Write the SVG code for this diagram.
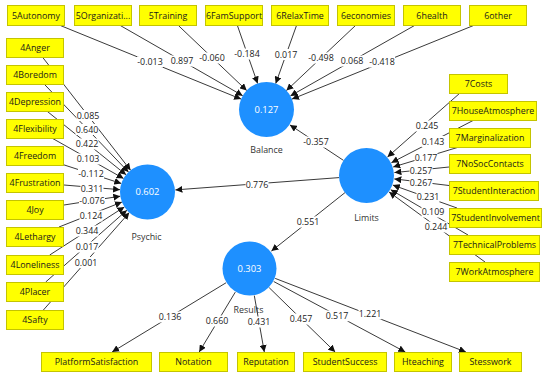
<svg xmlns="http://www.w3.org/2000/svg" width="550" height="379" viewBox="0 0 550 379">
<defs>
<marker id="ah" viewBox="0 0 10 10" refX="10" refY="5" markerWidth="7" markerHeight="7" orient="auto" markerUnits="userSpaceOnUse"><path d="M0,0 L10,5 L0,10 z" fill="#111"/></marker>
<style>
text{font-family:"Open Sans","Noto Sans","Liberation Sans",sans-serif;font-size:8.9px;text-anchor:middle}
.bx rect{fill:#ffff00;stroke:#c4c400;stroke-width:1}
.bx text{fill:#1a1a1a}
.lv circle{fill:#1e90ff}
.lv .v{fill:#ffffff;font-size:9.4px}
.lv .n{fill:#333333}
#connectors line{stroke:#3a3a3a;stroke-width:1;marker-end:url(#ah)}
#labels rect{fill:#ffffff}
#labels text{fill:#222222}
</style>
</defs>
<rect width="550" height="379" fill="#ffffff"/>
<g id="connectors">
<line x1="60.4" y1="25.5" x2="241.1" y2="99.1"/>
<line x1="120.3" y1="25.5" x2="242.7" y2="95.7"/>
<line x1="178.4" y1="25.5" x2="246.7" y2="90.5"/>
<line x1="237.4" y1="25.5" x2="257.6" y2="83.5"/>
<line x1="296.5" y1="25.5" x2="275.7" y2="83.6"/>
<line x1="355.5" y1="25.5" x2="286.4" y2="90.6"/>
<line x1="414.5" y1="25.5" x2="290.4" y2="95.9"/>
<line x1="473.5" y1="25.5" x2="292.0" y2="99.1"/>
<line x1="42.4" y1="57" x2="130.6" y2="170.3"/>
<line x1="44.1" y1="84" x2="128.5" y2="172.1"/>
<line x1="46.8" y1="111" x2="126.1" y2="174.8"/>
<line x1="51.8" y1="138" x2="123.6" y2="178.5"/>
<line x1="64" y1="164.9" x2="121.3" y2="183.5"/>
<line x1="64" y1="185" x2="120.1" y2="189.7"/>
<line x1="64" y1="205" x2="120.3" y2="196.2"/>
<line x1="59" y1="227" x2="121.9" y2="202.1"/>
<line x1="49.7" y1="255" x2="124.4" y2="206.9"/>
<line x1="45.7" y1="282" x2="126.9" y2="210.2"/>
<line x1="43.4" y1="310" x2="129.3" y2="212.6"/>
<line x1="460" y1="93" x2="387.5" y2="157.0"/>
<line x1="474" y1="120" x2="391.4" y2="162.7"/>
<line x1="459" y1="147" x2="393.2" y2="167.0"/>
<line x1="449" y1="167" x2="394.4" y2="172.6"/>
<line x1="449" y1="185.5" x2="394.3" y2="178.9"/>
<line x1="457" y1="208" x2="392.8" y2="185.1"/>
<line x1="468" y1="235" x2="390.7" y2="189.7"/>
<line x1="485" y1="262" x2="389.1" y2="192.0"/>
<line x1="343.5" y1="160.4" x2="289.9" y2="124.9"/>
<line x1="339.1" y1="177.6" x2="175.4" y2="189.9"/>
<line x1="345.0" y1="192.6" x2="271.4" y2="251.1"/>
<line x1="226.0" y1="282.8" x2="112.1" y2="352"/>
<line x1="235.3" y1="292.1" x2="199.2" y2="352"/>
<line x1="254.3" y1="295.6" x2="264.3" y2="352"/>
<line x1="269.2" y1="287.7" x2="335.2" y2="352"/>
<line x1="273.7" y1="281.5" x2="405.3" y2="352"/>
<line x1="275.2" y1="278.4" x2="465.9" y2="352"/>
</g>
<g id="labels">
<rect x="137" y="56.5" width="26" height="11"/><text x="150" y="65.2">-0.013</text>
<rect x="170.5" y="55.5" width="23" height="11"/><text x="182" y="64.2">0.897</text>
<rect x="199" y="52.5" width="26" height="11"/><text x="212" y="61.2">-0.060</text>
<rect x="234" y="48.5" width="26" height="11"/><text x="247" y="57.2">-0.184</text>
<rect x="274.5" y="49" width="23" height="11"/><text x="286" y="57.7">0.017</text>
<rect x="308" y="52.5" width="26" height="11"/><text x="321" y="61.2">-0.498</text>
<rect x="340.5" y="55.5" width="23" height="11"/><text x="352" y="64.2">0.068</text>
<rect x="369" y="56.5" width="26" height="11"/><text x="382" y="65.2">-0.418</text>
<rect x="76.5" y="110" width="23" height="11"/><text x="88" y="118.7">0.085</text>
<rect x="75.5" y="124" width="23" height="11"/><text x="87" y="132.7">0.640</text>
<rect x="75.5" y="138.5" width="23" height="11"/><text x="87" y="147.2">0.422</text>
<rect x="76.5" y="153.5" width="23" height="11"/><text x="88" y="162.2">0.103</text>
<rect x="78" y="168.5" width="26" height="11"/><text x="91" y="177.2">-0.112</text>
<rect x="80.5" y="183" width="23" height="11"/><text x="92" y="191.7">0.311</text>
<rect x="79" y="195.5" width="26" height="11"/><text x="92" y="204.2">-0.076</text>
<rect x="79.5" y="210.5" width="23" height="11"/><text x="91" y="219.2">0.124</text>
<rect x="75.5" y="225.5" width="23" height="11"/><text x="87" y="234.2">0.344</text>
<rect x="75.5" y="241.5" width="23" height="11"/><text x="87" y="250.2">0.017</text>
<rect x="74.5" y="257" width="23" height="11"/><text x="86" y="265.7">0.001</text>
<rect x="415.5" y="120.5" width="23" height="11"/><text x="427" y="129.2">0.245</text>
<rect x="421.5" y="136" width="23" height="11"/><text x="433" y="144.7">0.143</text>
<rect x="414.5" y="152" width="23" height="11"/><text x="426" y="160.7">0.177</text>
<rect x="409.5" y="165" width="23" height="11"/><text x="421" y="173.7">0.257</text>
<rect x="409.5" y="177.5" width="23" height="11"/><text x="421" y="186.2">0.267</text>
<rect x="416.5" y="191.5" width="23" height="11"/><text x="428" y="200.2">0.231</text>
<rect x="421.5" y="206.5" width="23" height="11"/><text x="433" y="215.2">0.109</text>
<rect x="424.5" y="221.5" width="23" height="11"/><text x="436" y="230.2">0.244</text>
<rect x="303" y="136.5" width="26" height="11"/><text x="316" y="145.2">-0.357</text>
<rect x="245.5" y="179.5" width="23" height="11"/><text x="257" y="188.2">0.776</text>
<rect x="296.5" y="216.5" width="23" height="11"/><text x="308" y="225.2">0.551</text>
<rect x="158.5" y="311.5" width="23" height="11"/><text x="170" y="320.2">0.136</text>
<rect x="205.5" y="315.5" width="23" height="11"/><text x="217" y="324.2">0.660</text>
<rect x="247.5" y="316.5" width="23" height="11"/><text x="259" y="325.2">0.431</text>
<rect x="289.5" y="313.5" width="23" height="11"/><text x="301" y="322.2">0.457</text>
<rect x="325.5" y="310.5" width="23" height="11"/><text x="337" y="319.2">0.517</text>
<rect x="358.5" y="308.5" width="23" height="11"/><text x="370" y="317.2">1.221</text>
</g>
<g id="n-5Autonomy" class="bx"><rect x="7.5" y="5.5" width="57" height="20"/><text x="36" y="18.8">5Autonomy</text></g>
<g id="n-5Organization" class="bx"><rect x="74.5" y="5.5" width="57" height="20"/><text x="103" y="18.8">5Organizati...</text></g>
<g id="n-5Training" class="bx"><rect x="139.5" y="5.5" width="57" height="20"/><text x="168" y="18.8">5Training</text></g>
<g id="n-6FamSupport" class="bx"><rect x="205.5" y="5.5" width="57" height="20"/><text x="234" y="18.8">6FamSupport</text></g>
<g id="n-6RelaxTime" class="bx"><rect x="271.5" y="5.5" width="57" height="20"/><text x="300" y="18.8">6RelaxTime</text></g>
<g id="n-6economies" class="bx"><rect x="337.5" y="5.5" width="57" height="20"/><text x="366" y="18.8">6economies</text></g>
<g id="n-6health" class="bx"><rect x="403.5" y="5.5" width="57" height="20"/><text x="432" y="18.8">6health</text></g>
<g id="n-6other" class="bx"><rect x="469.5" y="5.5" width="57" height="20"/><text x="498" y="18.8">6other</text></g>
<g id="n-4Anger" class="bx"><rect x="6.5" y="38.5" width="57" height="19"/><text x="35" y="51.3">4Anger</text></g>
<g id="n-4Boredom" class="bx"><rect x="6.5" y="65.5" width="57" height="19"/><text x="35" y="78.3">4Boredom</text></g>
<g id="n-4Depression" class="bx"><rect x="6.5" y="92.5" width="57" height="19"/><text x="35" y="105.3">4Depression</text></g>
<g id="n-4Flexibility" class="bx"><rect x="6.5" y="119.5" width="57" height="19"/><text x="35" y="132.3">4Flexibility</text></g>
<g id="n-4Freedom" class="bx"><rect x="6.5" y="146.5" width="57" height="19"/><text x="35" y="159.3">4Freedom</text></g>
<g id="n-4Frustration" class="bx"><rect x="6.5" y="173.5" width="57" height="19"/><text x="35" y="186.3">4Frustration</text></g>
<g id="n-4Joy" class="bx"><rect x="6.5" y="200.5" width="57" height="19"/><text x="35" y="213.3">4Joy</text></g>
<g id="n-4Lethargy" class="bx"><rect x="6.5" y="227.5" width="57" height="19"/><text x="35" y="240.3">4Lethargy</text></g>
<g id="n-4Loneliness" class="bx"><rect x="6.5" y="255.5" width="57" height="19"/><text x="35" y="268.3">4Loneliness</text></g>
<g id="n-4Placer" class="bx"><rect x="6.5" y="282.5" width="57" height="19"/><text x="35" y="295.3">4Placer</text></g>
<g id="n-4Safty" class="bx"><rect x="6.5" y="310.5" width="57" height="19"/><text x="35" y="323.3">4Safty</text></g>
<g id="n-7Costs" class="bx"><rect x="449.5" y="74.5" width="58" height="19"/><text x="478.5" y="87.3">7Costs</text></g>
<g id="n-7HouseAtmosphere" class="bx"><rect x="449.5" y="101.5" width="87" height="19"/><text x="493" y="114.3">7HouseAtmosphere</text></g>
<g id="n-7Marginalization" class="bx"><rect x="449.5" y="128.5" width="81" height="19"/><text x="490" y="141.3">7Marginalization</text></g>
<g id="n-7NoSocContacts" class="bx"><rect x="449.5" y="154.5" width="81" height="19"/><text x="490" y="167.3">7NoSocContacts</text></g>
<g id="n-7StudentInteraction" class="bx"><rect x="449.5" y="181.5" width="89" height="19"/><text x="494" y="194.3">7StudentInteraction</text></g>
<g id="n-7StudentInvolvement" class="bx"><rect x="449.5" y="208.5" width="92" height="19"/><text x="495.5" y="221.3">7StudentInvolvement</text></g>
<g id="n-7TechnicalProblems" class="bx"><rect x="449.5" y="235.5" width="90" height="19"/><text x="494.5" y="248.3">7TechnicalProblems</text></g>
<g id="n-7WorkAtmosphere" class="bx"><rect x="449.5" y="262.5" width="90" height="19"/><text x="494.5" y="275.3">7WorkAtmosphere</text></g>
<g id="n-PlatformSatisfaction" class="bx"><rect x="41.5" y="352.5" width="110" height="19"/><text x="96.5" y="365.3">PlatformSatisfaction</text></g>
<g id="n-Notation" class="bx"><rect x="159.5" y="352.5" width="68" height="19"/><text x="193.5" y="365.3">Notation</text></g>
<g id="n-Reputation" class="bx"><rect x="237.5" y="352.5" width="57" height="19"/><text x="266" y="365.3">Reputation</text></g>
<g id="n-StudentSuccess" class="bx"><rect x="303.5" y="352.5" width="83" height="19"/><text x="345" y="365.3">StudentSuccess</text></g>
<g id="n-Hteaching" class="bx"><rect x="394.5" y="352.5" width="57" height="19"/><text x="423" y="365.3">Hteaching</text></g>
<g id="n-Stesswork" class="bx"><rect x="459.5" y="352.5" width="62" height="19"/><text x="490.5" y="365.3">Stesswork</text></g>
<g id="n-Balance" class="lv"><circle cx="266.5" cy="109.5" r="27.5"/><text class="v" x="266.5" y="112.8">0.127</text><text class="n" x="266.5" y="153.2">Balance</text></g>
<g id="n-Limits" class="lv"><circle cx="366.5" cy="175.5" r="27.5"/><text class="n" x="366.5" y="221.2">Limits</text></g>
<g id="n-Psychic" class="lv"><circle cx="147.5" cy="192" r="27.5"/><text class="v" x="147.5" y="195.3">0.602</text><text class="n" x="146.5" y="240.2">Psychic</text></g>
<g id="n-Results" class="lv"><circle cx="249.5" cy="268.5" r="27"/><text class="v" x="249.5" y="271.8">0.303</text><text class="n" x="248.5" y="313.2">Results</text></g>
</svg>
